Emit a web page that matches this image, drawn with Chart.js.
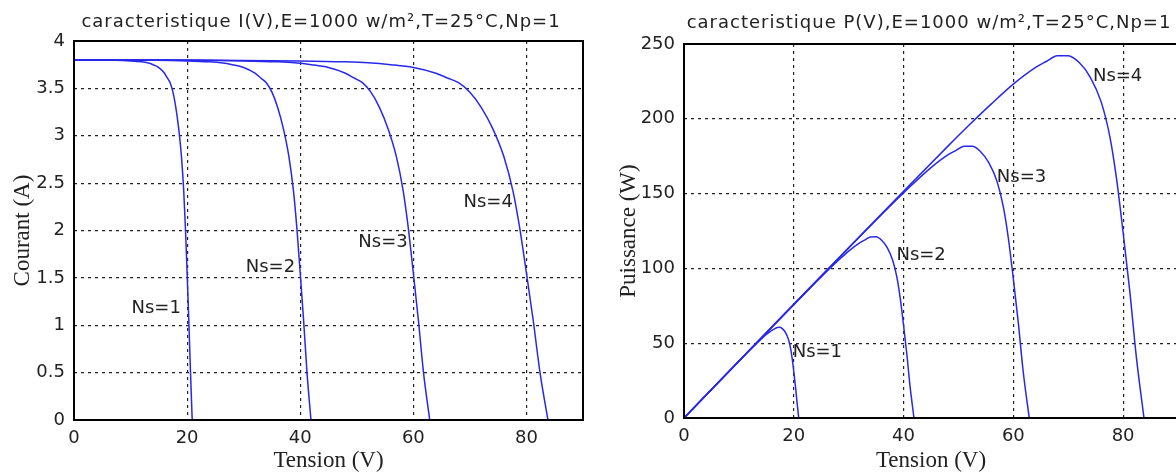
<!DOCTYPE html>
<html lang="fr">
<head>
  <meta charset="UTF-8">
  <title>Caractéristiques I(V) et P(V)</title>
  <script src="https://cdn.jsdelivr.net/npm/chart.js"></script>
  <style>
    html, body { margin: 0; padding: 0; background: #fff; overflow: hidden; }
    #boxIV { position: absolute; left: 0; top: 0; width: 600px; height: 476px; }
    #boxPV { position: absolute; left: 588px; top: 0; width: 600px; height: 476px; }
  </style>
</head>
<body>
  <div id="boxIV"><canvas id="chartIV" width="600" height="476"></canvas></div>
  <div id="boxPV"><canvas id="chartPV" width="600" height="476"></canvas></div>

  <script>
    // tensions (V), courants (A) et puissances (W), pour Ns = 1..4
    const ns1V = [0, 5, 10, 12, 13, 14, 15, 16, 16.5, 17, 17.5, 18, 18.5, 19, 19.4, 19.7, 20, 20.3, 20.6, 20.9];
    const ns1I = [3.8, 3.8, 3.79, 3.78, 3.77, 3.75, 3.72, 3.66, 3.61, 3.56, 3.46, 3.3, 3.08, 2.78, 2.42, 2.03, 1.55, 1.05, 0.5, 0];
    const ns1P = [0, 19, 37.9, 45.4, 49, 52.5, 55.8, 58.6, 59.6, 60.5, 60.6, 59.4, 57, 52.8, 46.9, 40, 31, 21.3, 10.3, 0];

    const ns2V = [0, 10, 20, 24, 26, 28, 30, 32, 33, 34, 35, 36, 37, 38, 38.8, 39.4, 40, 40.6, 41.2, 41.9];
    const ns2I = [3.8, 3.8, 3.79, 3.78, 3.77, 3.75, 3.72, 3.66, 3.61, 3.56, 3.46, 3.3, 3.08, 2.78, 2.42, 2.03, 1.55, 1.05, 0.5, 0];
    const ns2P = [0, 38, 75.8, 90.7, 98, 105, 111.6, 117.1, 119.1, 121, 121.1, 118.8, 114, 105.6, 93.9, 80, 62, 42.6, 20.6, 0];

    const ns3V = [0, 15, 30, 36, 39, 42, 45, 48, 49.5, 51, 52.5, 54, 55.5, 57, 58.2, 59.1, 60, 60.9, 61.8, 62.9];
    const ns3I = [3.8, 3.8, 3.79, 3.78, 3.77, 3.75, 3.72, 3.66, 3.61, 3.56, 3.46, 3.3, 3.08, 2.78, 2.42, 2.03, 1.55, 1.05, 0.5, 0];
    const ns3P = [0, 57, 113.7, 136.1, 147, 157.5, 167.4, 175.7, 178.7, 181.6, 181.7, 178.2, 170.9, 158.5, 140.8, 120, 93, 63.9, 30.9, 0];

    const ns4V = [0, 20, 40, 48, 52, 56, 60, 64, 66, 68, 70, 72, 74, 76, 77.6, 78.8, 80, 81.2, 82.4, 83.8];
    const ns4I = [3.8, 3.8, 3.79, 3.78, 3.77, 3.75, 3.72, 3.66, 3.61, 3.56, 3.46, 3.3, 3.08, 2.78, 2.42, 2.03, 1.55, 1.05, 0.5, 0];
    const ns4P = [0, 76, 151.6, 181.4, 196, 210, 223.2, 234.2, 238.3, 242.1, 242.2, 237.6, 227.9, 211.3, 187.8, 160, 124, 85.3, 41.2, 0];

    const xTicks = [0, 20, 40, 60, 80];
    const iTicks = [0, 0.5, 1, 1.5, 2, 2.5, 3, 3.5, 4];
    const pTicks = [0, 50, 100, 150, 200, 250];

    // étiquettes des courbes (position en coordonnées des données)
    const ivLabelText = ['Ns=1', 'Ns=2', 'Ns=3', 'Ns=4'];
    const ivLabelV = [18.9, 39.1, 59.0, 77.6];
    const ivLabelI = [1.18, 1.61, 1.87, 2.3];
    const pvLabelText = ['Ns=1', 'Ns=2', 'Ns=3', 'Ns=4'];
    const pvLabelV = [19.8, 38.7, 57.0, 74.5];
    const pvLabelP = [44, 108.7, 160.7, 228.7];

    const BLUE = 'rgb(40,40,235)';
    const TXT = '#222';
    const tickFont = { family: 'DejaVu Sans', size: 18 };
    const axisFont = { family: 'Liberation Serif', size: 23 };

    // cadre, titre et étiquettes "Ns=.."
    const decor = {
      id: 'decor',
      afterDraw(chart, args, o) {
        const { ctx, chartArea: a, scales: { x, y } } = chart;
        ctx.save();
        ctx.strokeStyle = '#000';
        ctx.lineWidth = 2;
        ctx.strokeRect(a.left, a.top, a.right - a.left, a.bottom - a.top);

        ctx.fillStyle = TXT;
        ctx.font = '18px "DejaVu Sans"';
        ctx.letterSpacing = '1px';
        ctx.textAlign = 'center';
        ctx.textBaseline = 'alphabetic';
        ctx.fillText(o.title, o.titleX, o.titleY);
        ctx.letterSpacing = '0px';

        ctx.font = '18px "DejaVu Sans"';
        ctx.textBaseline = 'middle';
        ctx.textAlign = o.labelAlign;
        o.text.forEach((t, i) => {
          ctx.fillText(t, x.getPixelForValue(o.xs[i]), y.getPixelForValue(o.ys[i]));
        });
        ctx.restore();
      }
    };

    function pts(xs, ys) {
      return xs.map((v, i) => ({ x: v, y: ys[i] }));
    }

    function curve(xs, ys) {
      return {
        data: pts(xs, ys),
        borderColor: BLUE,
        borderWidth: 1.5,
        pointRadius: 0,
        fill: false,
        cubicInterpolationMode: 'monotone'
      };
    }

    function makeChart(id, datasets, cfg) {
      return new Chart(document.getElementById(id), {
        type: 'line',
        data: { datasets: datasets },
        plugins: [decor],
        options: {
          responsive: false,
          animation: false,
          events: [],
          layout: { padding: cfg.padding },
          plugins: {
            legend: { display: false },
            tooltip: { enabled: false },
            decor: cfg.decor
          },
          scales: {
            x: {
              type: 'linear',
              min: 0,
              max: 90,
              afterBuildTicks: s => { s.ticks = xTicks.map(v => ({ value: v })); },
              afterFit: s => { s.height = cfg.xHeight; },
              ticks: { font: tickFont, color: TXT, padding: 8, maxRotation: 0, callback: v => String(v) },
              grid: { color: '#222', lineWidth: 1.2, drawTicks: false },
              border: { display: false, dash: [3, 4] },
              title: { display: true, text: 'Tension (V)', font: axisFont, color: TXT, padding: { top: 0, bottom: 1 } }
            },
            y: {
              type: 'linear',
              min: 0,
              max: cfg.yMax,
              afterBuildTicks: s => { s.ticks = cfg.yTicks.map(v => ({ value: v })); },
              afterFit: s => { s.width = cfg.yWidth; },
              ticks: { font: tickFont, color: TXT, padding: 9, callback: v => String(v) },
              grid: { color: '#222', lineWidth: 1.2, drawTicks: false },
              border: { display: false, dash: [3, 4] },
              title: { display: true, text: cfg.yTitle, font: axisFont, color: TXT, padding: { top: cfg.yTitlePad, bottom: 0 } }
            }
          }
        }
      });
    }

    makeChart('chartIV',
      [curve(ns1V, ns1I), curve(ns2V, ns2I), curve(ns3V, ns3I), curve(ns4V, ns4I)],
      {
        padding: { left: 0, top: 41, right: 17, bottom: 0 },
        xHeight: 56, yWidth: 74, yMax: 4, yTicks: iTicks,
        yTitle: 'Courant (A)', yTitlePad: 9,
        decor: {
          title: 'caracteristique I(V),E=1000 w/m²,T=25°C,Np=1', titleX: 321, titleY: 27,
          text: ivLabelText, xs: ivLabelV, ys: ivLabelI, labelAlign: 'right'
        }
      });

    makeChart('chartPV',
      [curve(ns1V, ns1P), curve(ns2V, ns2P), curve(ns3V, ns3P), curve(ns4V, ns4P)],
      {
        padding: { left: 0, top: 44, right: 10, bottom: 0 },
        xHeight: 58, yWidth: 96, yMax: 250, yTicks: pTicks,
        yTitle: 'Puissance (W)', yTitlePad: 27,
        decor: {
          title: 'caracteristique P(V),E=1000 w/m²,T=25°C,Np=1', titleX: 341, titleY: 28,
          text: pvLabelText, xs: pvLabelV, ys: pvLabelP, labelAlign: 'left'
        }
      });
  </script>
</body>
</html>
